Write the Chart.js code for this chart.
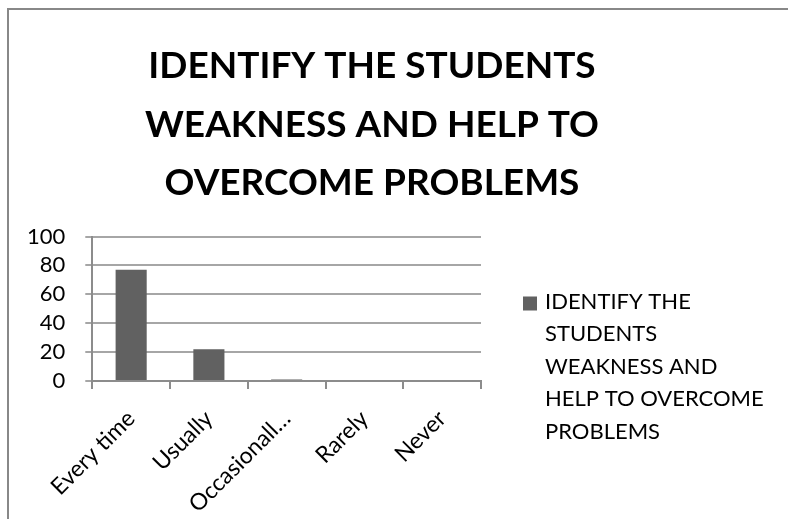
<!DOCTYPE html>
<html>
<head>
<meta charset="utf-8">
<script src="https://cdn.jsdelivr.net/npm/chart.js@4/dist/chart.umd.min.js"></script>
<style>
  html, body { margin: 0; padding: 0; background: #fff; }
  #wrap { position: relative; width: 788px; height: 519px; overflow: hidden; }
  #frame {
    position: absolute; left: 7px; top: 8px; width: 800px; height: 530px;
    border-left: 2px solid #888; border-top: 2px solid #888;
  }
  #chart { position: absolute; left: 0; top: 0; }
</style>
</head>
<body>
<div id="wrap">
  <div id="frame"></div>
  <canvas id="chart" width="788" height="519"></canvas>
</div>
<script>
const titleLines = ['IDENTIFY THE STUDENTS', 'WEAKNESS AND HELP TO', 'OVERCOME PROBLEMS'];
// series name, broken the way the legend shows it
const seriesLines = ['IDENTIFY THE', 'STUDENTS', 'WEAKNESS AND', 'HELP TO OVERCOME', 'PROBLEMS'];
const categories = ['Every time', 'Usually', 'Occasionally', 'Rarely', 'Never'];
const values = [77, 22, 1, 0, 0];
const yTicks = [0, 20, 40, 60, 80, 100];

const FONT = 'Lato, "Open Sans", sans-serif';
const barColor = '#616161';

// legend drawn by hand because the label wraps over several lines
const wrapLegend = {
  id: 'wrapLegend',
  afterDraw(chart) {
    const ctx = chart.ctx;
    const area = chart.chartArea;
    const x = area.right + 42;
    const y = area.top + 72;
    ctx.save();
    ctx.font = '22px ' + FONT;
    ctx.fillStyle = barColor;
    ctx.fillRect(x, y - 12, 14, 14);
    ctx.fillStyle = '#000';
    ctx.textBaseline = 'alphabetic';
    seriesLines.forEach((l, i) => ctx.fillText(l, x + 22, y + i * 32.5));
    ctx.restore();
  }
};

new Chart(document.getElementById('chart').getContext('2d'), {
  type: 'bar',
  data: {
    labels: categories,
    datasets: [{
      label: seriesLines.join(' '),
      data: values,
      backgroundColor: barColor,
      barPercentage: 0.4,
      categoryPercentage: 1
    }]
  },
  options: {
    responsive: false,
    animation: false,
    layout: { padding: { left: 7, right: 51, top: 0, bottom: 8 } },
    plugins: {
      legend: { display: false },
      tooltip: { enabled: false },
      title: {
        display: true,
        text: titleLines,
        color: '#000',
        font: { family: FONT, size: 37, weight: 'bold', lineHeight: '58.5px' },
        padding: { top: 37, bottom: 24 }
      }
    },
    scales: {
      x: {
        grid: { display: true, drawOnChartArea: false, drawTicks: true, tickLength: 8, color: '#8c8c8c', lineWidth: 2, offset: true },
        border: { color: '#8c8c8c', width: 2 },
        ticks: {
          color: '#000',
          font: { family: FONT, size: 23 },
          minRotation: 45,
          maxRotation: 45,
          autoSkip: false,
          padding: 16,
          callback(v) {
            const s = categories[v];
            return s.length > 11 ? s.slice(0, 11) + '…' : s;
          }
        },
        afterFit(scale) { scale.height = 130; }
      },
      y: {
        min: 0,
        max: 100,
        afterBuildTicks(scale) { scale.ticks = yTicks.map(v => ({ value: v })); },
        grid: { color: '#a6a6a6', lineWidth: 2, tickLength: 7 },
        border: { color: '#8c8c8c', width: 2 },
        ticks: { color: '#000', font: { family: FONT, size: 22 }, padding: 20, autoSkip: false }
      },
      yRight: {
        position: 'right',
        min: 0,
        max: 100,
        grid: { display: false, drawTicks: false },
        border: { display: false },
        ticks: { display: false },
        afterFit(scale) { scale.width = 256; }
      }
    }
  },
  plugins: [wrapLegend]
});
</script>
</body>
</html>
